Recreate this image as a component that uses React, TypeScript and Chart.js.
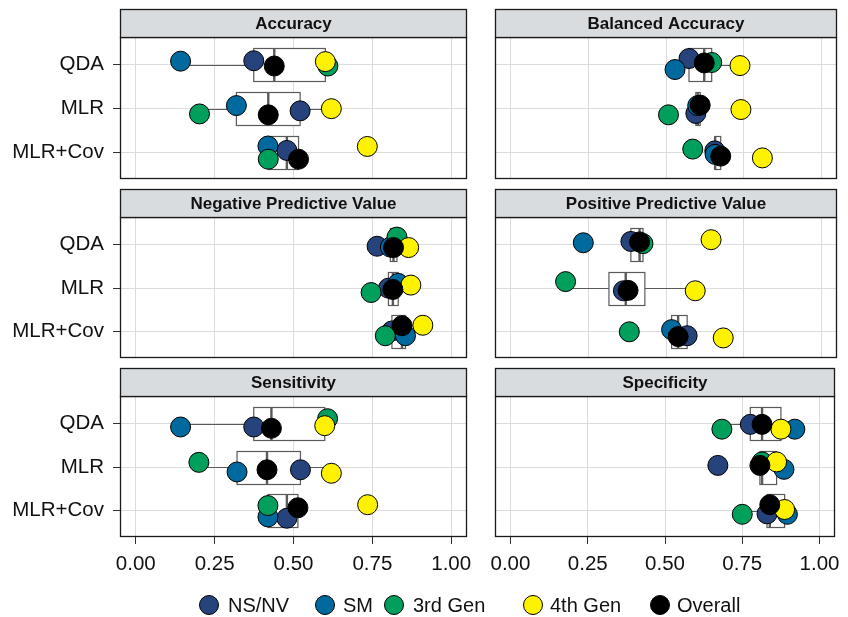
import React, { useEffect, useRef } from "react";
import { Chart, registerables } from "chart.js";

Chart.register(...registerables);

// ---------------- data ----------------
const CATEGORIES = ["QDA", "MLR", "MLR+Cov"];
const GROUPS = ["NS/NV", "SM", "3rd Gen", "4th Gen", "Overall"];
const GROUP_COLORS = ["#26437B", "#006A9E", "#009F5B", "#FFF200", "#000000"];
const X_TICKS = [0, 0.25, 0.5, 0.75, 1];
const METRICS = [
  "Accuracy",
  "Balanced Accuracy",
  "Negative Predictive Value",
  "Positive Predictive Value",
  "Sensitivity",
  "Specificity",
];

// rows = groups (NS/NV, SM, 3rd Gen, 4th Gen, Overall); columns = QDA, MLR, MLR+Cov
const ACCURACY = [
  [0.374, 0.521, 0.479],
  [0.142, 0.319, 0.419],
  [0.609, 0.202, 0.42],
  [0.601, 0.62, 0.734],
  [0.439, 0.42, 0.516],
];
const BALANCED_ACCURACY = [
  [0.574, 0.596, 0.657],
  [0.529, 0.602, 0.658],
  [0.647, 0.508, 0.586],
  [0.738, 0.741, 0.81],
  [0.623, 0.61, 0.676],
];
const NPV = [
  [0.765, 0.801, 0.812],
  [0.807, 0.832, 0.855],
  [0.828, 0.746, 0.791],
  [0.865, 0.872, 0.91],
  [0.817, 0.815, 0.844],
];
const PPV = [
  [0.387, 0.363, 0.568],
  [0.234, null, 0.518],
  [0.426, 0.177, 0.382],
  [0.645, 0.594, 0.684],
  [0.415, 0.378, 0.539],
];
const SENSITIVITY = [
  [0.374, 0.522, 0.479],
  [0.142, 0.321, 0.419],
  [0.608, 0.2, 0.419],
  [0.599, 0.62, 0.735],
  [0.43, 0.416, 0.514],
];
const SPECIFICITY = [
  [0.776, 0.671, 0.83],
  [0.92, 0.885, 0.896],
  [0.684, 0.814, 0.75],
  [0.875, 0.861, 0.887],
  [0.814, 0.807, 0.839],
];

// vertical jitter (in category units) of each point, same layout as above
const ACCURACY_JITTER = [
  [-0.09, 0.05, -0.05],
  [-0.08, -0.07, -0.15],
  [0.03, 0.12, 0.15],
  [-0.07, 0.0, -0.14],
  [0.03, 0.14, 0.15],
];
const BALANCED_ACCURACY_JITTER = [
  [-0.14, 0.11, -0.04],
  [0.11, -0.07, 0.04],
  [-0.05, 0.14, -0.08],
  [0.02, 0.02, 0.12],
  [-0.04, -0.08, 0.08],
];
const NPV_JITTER = [
  [0.04, 0.0, -0.02],
  [0.06, -0.11, 0.09],
  [-0.17, 0.1, 0.09],
  [0.07, -0.07, -0.15],
  [0.07, 0.03, -0.14],
];
const PPV_JITTER = [
  [-0.07, 0.06, 0.09],
  [-0.04, 0.0, -0.05],
  [-0.02, -0.15, 0.0],
  [-0.11, 0.06, 0.14],
  [-0.06, 0.05, 0.11],
];
const SENSITIVITY_JITTER = [
  [0.08, 0.06, 0.17],
  [0.08, 0.11, 0.14],
  [-0.11, -0.11, -0.12],
  [0.05, 0.14, -0.14],
  [0.11, 0.06, -0.07],
];
const SPECIFICITY_JITTER = [
  [0.02, -0.04, 0.07],
  [0.13, 0.05, 0.08],
  [0.13, -0.12, 0.08],
  [0.13, -0.12, -0.03],
  [0.02, -0.04, -0.14],
];

const PANEL_VALUES = [ACCURACY, BALANCED_ACCURACY, NPV, PPV, SENSITIVITY, SPECIFICITY];
const PANEL_JITTER = [
  ACCURACY_JITTER,
  BALANCED_ACCURACY_JITTER,
  NPV_JITTER,
  PPV_JITTER,
  SENSITIVITY_JITTER,
  SPECIFICITY_JITTER,
];

// ---------------- layout / style ----------------
const W = 848;
const H = 617;
const COL_LEFT = [120, 495];
const COL_RIGHT = [467, 842];
const BODY_TOP = [37, 217, 396];
const BODY_BOTTOM = [179, 358, 537];
const STRIP_H = 28;
const Y_AXIS_W = 120;
const X_AXIS_H = 45;
const Y_MIN = 0.37;
const Y_MAX = 3.6;
const BOX_HALF = 0.38;
const FONT = '"Liberation Sans", Arial, Helvetica, sans-serif';
const GRID_COLOR = "#DCDCDC";
const BOX_COLOR = "#5A5A5A";
const STRIP_FILL = "#D9DCDF";
const LEGEND_CIRCLE_X = [199, 315, 384, 523, 650];
const LEGEND_TEXT_X = [228, 343, 413, 550, 677];

function quantile(sorted: number[], p: number) {
  const h = (sorted.length - 1) * p;
  const lo = Math.floor(h);
  const hi = Math.min(lo + 1, sorted.length - 1);
  return sorted[lo] + (h - lo) * (sorted[hi] - sorted[lo]);
}

function boxStats(vals: (number | null)[]) {
  const s = vals.filter((v) => v != null).map((v) => v as number).sort((a, b) => a - b);
  const q1 = quantile(s, 0.25);
  const med = quantile(s, 0.5);
  const q3 = quantile(s, 0.75);
  const iqr = q3 - q1;
  const inside = s.filter((v) => v >= q1 - 1.5 * iqr && v <= q3 + 1.5 * iqr);
  return { q1, med, q3, lo: Math.min(...inside), hi: Math.max(...inside) };
}

function makePanel(canvas: HTMLCanvasElement, p: number) {
  const row = Math.floor(p / 2);
  const col = p % 2;
  const isLeft = col === 0;
  const isBottom = row === 2;
  const values = PANEL_VALUES[p];
  const jitter = PANEL_JITTER[p];
  const title = METRICS[p];

  const facetPlugin = {
    id: "facet" + p,
    beforeDatasetsDraw(chart: any) {
      const ctx = chart.ctx;
      const xs = chart.scales.x;
      const ys = chart.scales.y;
      ctx.save();
      CATEGORIES.forEach((_, ci) => {
        const st = boxStats(values.map((g) => g[ci]));
        const yc = ys.getPixelForValue(ci + 1);
        const half = Math.abs(ys.getPixelForValue(ci + 1 + BOX_HALF) - yc);
        const px = (v: number) => xs.getPixelForValue(v);
        const yl = Math.round(yc) + 0.5;
        ctx.strokeStyle = BOX_COLOR;
        ctx.lineWidth = 1.2;
        ctx.beginPath();
        ctx.moveTo(px(st.lo), yl);
        ctx.lineTo(px(st.q1), yl);
        ctx.moveTo(px(st.q3), yl);
        ctx.lineTo(px(st.hi), yl);
        ctx.stroke();
        const x1 = px(st.q1);
        const x2 = px(st.q3);
        const top = Math.round(yc - half) + 0.5;
        const bot = Math.round(yc + half) + 0.5;
        ctx.fillStyle = "#FFFFFF";
        ctx.fillRect(x1, top, x2 - x1, bot - top);
        ctx.strokeRect(x1, top, x2 - x1, bot - top);
        ctx.lineWidth = 2.4;
        ctx.beginPath();
        ctx.moveTo(px(st.med), top);
        ctx.lineTo(px(st.med), bot);
        ctx.stroke();
      });
      ctx.restore();
    },
    afterDraw(chart: any) {
      const ctx = chart.ctx;
      const a = chart.chartArea;
      ctx.save();
      ctx.strokeStyle = "#1A1A1A";
      ctx.lineWidth = 1.3;
      ctx.strokeRect(a.left + 0.5, a.top + 0.5, a.right - a.left - 1, a.bottom - a.top - 1);
      const sTop = a.top - STRIP_H;
      ctx.fillStyle = STRIP_FILL;
      ctx.fillRect(a.left + 0.5, sTop + 0.5, a.right - a.left - 1, STRIP_H);
      ctx.strokeRect(a.left + 0.5, sTop + 0.5, a.right - a.left - 1, STRIP_H);
      ctx.fillStyle = "#111111";
      ctx.font = `bold 17px ${FONT}`;
      ctx.textAlign = "center";
      ctx.textBaseline = "middle";
      ctx.fillText(title, (a.left + a.right) / 2, sTop + STRIP_H / 2 + 1);
      ctx.restore();
    },
  };

  const datasets = GROUPS.map((g, gi) => ({
    label: g,
    data: CATEGORIES.flatMap((_, ci) =>
      values[gi][ci] == null ? [] : [{ x: values[gi][ci] as number, y: ci + 1 + jitter[gi][ci] }]
    ),
    backgroundColor: GROUP_COLORS[gi],
    borderColor: "#000000",
    borderWidth: 1,
    pointRadius: 10,
    pointHoverRadius: 10,
    order: GROUPS.length - gi,
  }));

  const tickFont = { family: FONT, size: 20.5 };

  return new Chart(canvas, {
    type: "scatter",
    data: { datasets },
    options: {
      responsive: false,
      animation: false,
      devicePixelRatio: 1,
      events: [],
      layout: {
        padding: {
          left: isLeft ? 0 : COL_LEFT[1],
          right: W - COL_RIGHT[col],
          top: BODY_TOP[row],
          bottom: H - BODY_BOTTOM[row] - (isBottom ? X_AXIS_H : 0),
        },
      },
      plugins: { legend: { display: false }, tooltip: { enabled: false } },
      scales: {
        x: {
          type: "linear",
          min: -0.05,
          max: 1.05,
          afterBuildTicks: (s: any) => {
            s.ticks = X_TICKS.map((v) => ({ value: v }));
          },
          afterFit: (s: any) => {
            s.height = isBottom ? X_AXIS_H : 0;
          },
          border: { display: false },
          grid: {
            color: GRID_COLOR,
            lineWidth: 1,
            drawTicks: isBottom,
            tickLength: 7,
            tickColor: "#333333",
            tickWidth: 1,
          },
          ticks: {
            display: isBottom,
            padding: 8,
            color: "#111111",
            font: tickFont,
            autoSkip: false,
            maxRotation: 0,
            callback: (v: any) => Number(v).toFixed(2),
          },
        },
        y: {
          type: "linear",
          reverse: true,
          min: Y_MIN,
          max: Y_MAX,
          afterBuildTicks: (s: any) => {
            s.ticks = CATEGORIES.map((_, i) => ({ value: i + 1 }));
          },
          afterFit: (s: any) => {
            s.width = isLeft ? Y_AXIS_W : 0;
          },
          border: { display: false },
          grid: {
            color: GRID_COLOR,
            lineWidth: 1,
            drawTicks: isLeft,
            tickLength: 7,
            tickColor: "#333333",
            tickWidth: 1,
          },
          ticks: {
            display: isLeft,
            padding: 9,
            color: "#111111",
            font: tickFont,
            autoSkip: false,
            callback: (v: any) => CATEGORIES[Math.round(Number(v)) - 1] ?? "",
          },
        },
      },
    } as any,
    plugins: [facetPlugin],
  });
}

export default function App() {
  const refs = useRef<(HTMLCanvasElement | null)[]>([]);

  useEffect(() => {
    const charts = refs.current.map((c, p) => (c ? makePanel(c, p) : null));
    return () => {
      charts.forEach((ch) => ch && ch.destroy());
    };
  }, []);

  return (
    <div
      style={{
        position: "absolute",
        left: 0,
        top: 0,
        width: W,
        height: H,
        background: "#FFFFFF",
        overflow: "hidden",
        fontFamily: FONT,
      }}
    >
      {METRICS.map((m, p) => (
        <canvas
          key={m}
          ref={(el) => {
            refs.current[p] = el;
          }}
          width={W}
          height={H}
          style={{ position: "absolute", left: 0, top: 0, width: W, height: H }}
        />
      ))}
      {GROUPS.map((g, gi) => (
        <React.Fragment key={g}>
          <div
            style={{
              position: "absolute",
              left: LEGEND_CIRCLE_X[gi],
              top: 595,
              width: 20,
              height: 20,
              boxSizing: "border-box",
              borderRadius: "50%",
              border: "1px solid #000",
              background: GROUP_COLORS[gi],
            }}
          />
          <div
            style={{
              position: "absolute",
              left: LEGEND_TEXT_X[gi],
              top: 593,
              height: 24,
              lineHeight: "24px",
              fontSize: 20,
              color: "#111111",
              whiteSpace: "nowrap",
            }}
          >
            {g}
          </div>
        </React.Fragment>
      ))}
    </div>
  );
}
